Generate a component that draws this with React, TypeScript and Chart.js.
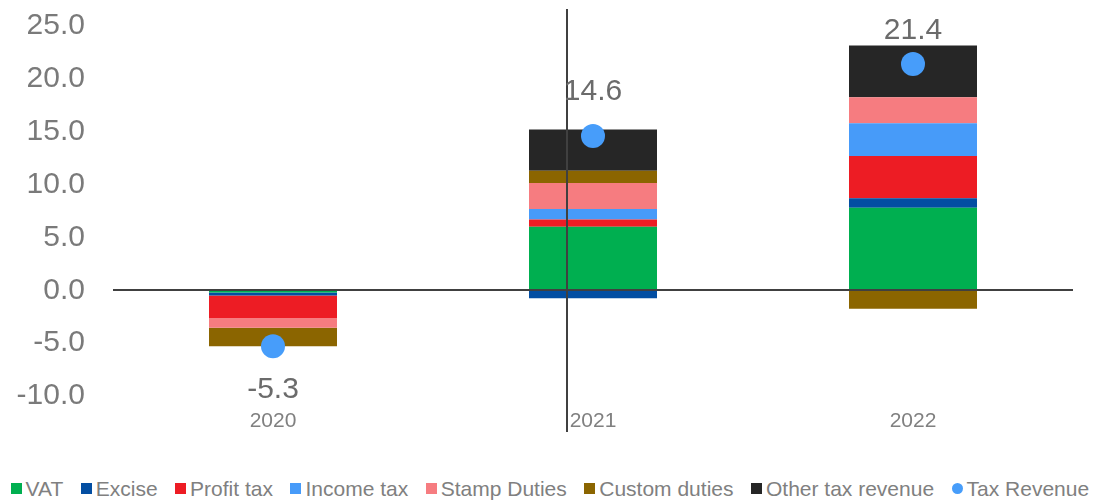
import React, { useEffect, useRef } from "react";
import { Chart, registerables } from "chart.js";

Chart.register(...registerables);

const categories = ["2020", "2021", "2022"];
const vat = [-0.2, 6.0, 7.8];
const excise = [-0.3, -0.75, 0.9];
const profitTax = [-2.15, 0.7, 4.0];
const incomeTax = [0, 1.0, 3.1];
const stampDuties = [-0.9, 2.45, 2.45];
const customDuties = [-1.75, 1.15, -1.75];
const otherTaxRevenue = [0, 3.9, 4.9];
const taxRevenue = [-5.3, 14.6, 21.4];
const taxRevenueLabels = ["-5.3", "14.6", "21.4"];
const yMin = -10;
const yMax = 25;
const yStep = 5;

// styling
const LABEL_OFFSETS = [43, -44, -33];
const AXIS_CROSS = 0.92;
const FONT = "'Liberation Sans', Arial, sans-serif";

const seriesDefs = [
  { label: "VAT", data: vat, color: "#00AF50" },
  { label: "Excise", data: excise, color: "#034EA2" },
  { label: "Profit tax", data: profitTax, color: "#ED1C24" },
  { label: "Income tax", data: incomeTax, color: "#479BF9" },
  { label: "Stamp Duties", data: stampDuties, color: "#F67C80" },
  { label: "Custom duties", data: customDuties, color: "#8B6500" },
  { label: "Other tax revenue", data: otherTaxRevenue, color: "#262626" },
];
const pointColor = "#479DFA";

const overlayPlugin = {
  id: "overlay",
  afterDatasetsDraw(chart: any) {
    const { ctx, chartArea, scales } = chart;
    const x = scales.x;
    const y = scales.y;
    ctx.save();
    ctx.strokeStyle = "#404040";
    ctx.lineWidth = 2;
    const y0 = Math.round(y.getPixelForValue(0));
    ctx.beginPath();
    ctx.moveTo(chartArea.left, y0);
    ctx.lineTo(chartArea.right, y0);
    ctx.stroke();
    const xc = Math.round(x.getPixelForValue(AXIS_CROSS));
    ctx.beginPath();
    ctx.moveTo(xc, chartArea.top - 17);
    ctx.lineTo(xc, chartArea.bottom + 36);
    ctx.stroke();

    const meta = chart.getDatasetMeta(seriesDefs.length);
    ctx.fillStyle = "#6b6b6b";
    ctx.font = `30px ${FONT}`;
    ctx.textAlign = "center";
    ctx.textBaseline = "middle";
    meta.data.forEach((pt: any, i: number) => {
      ctx.fillText(taxRevenueLabels[i], pt.x, pt.y + LABEL_OFFSETS[i]);
    });
    ctx.restore();
  },
};

function Legend() {
  const items = [
    ...seriesDefs.map((s) => ({ label: s.label, color: s.color, circle: false })),
    { label: "Tax Revenue", color: pointColor, circle: true },
  ];
  return (
    <div
      style={{
        position: "absolute",
        left: 10.5,
        top: 476,
        height: 25,
        display: "flex",
        alignItems: "center",
        fontFamily: FONT,
        fontSize: 21,
        color: "#808080",
        whiteSpace: "nowrap",
      }}
    >
      {items.map((it, i) => (
        <div
          key={it.label}
          style={{ display: "flex", alignItems: "center", marginLeft: i === 0 ? 0 : 17.5 }}
        >
          <span
            style={{
              display: "inline-block",
              width: 11,
              height: 11,
              background: it.color,
              borderRadius: it.circle ? "50%" : 0,
              marginRight: 4,
            }}
          />
          <span style={{ lineHeight: "25px" }}>{it.label}</span>
        </div>
      ))}
    </div>
  );
}

export default function App() {
  const canvasRef = useRef<HTMLCanvasElement | null>(null);

  useEffect(() => {
    if (!canvasRef.current) return;
    const datasets: any[] = seriesDefs.map((s) => ({
      type: "bar",
      label: s.label,
      data: s.data,
      backgroundColor: s.color,
      borderWidth: 0,
      barPercentage: 0.4,
      categoryPercentage: 1,
      stack: "taxes",
    }));
    datasets.push({
      type: "line",
      label: "Tax Revenue",
      data: taxRevenue,
      showLine: false,
      pointRadius: 12,
      pointHoverRadius: 12,
      pointBackgroundColor: pointColor,
      pointBorderWidth: 0,
      borderColor: pointColor,
      backgroundColor: pointColor,
      stack: "total",
      order: -1,
    });

    const chart = new Chart(canvasRef.current, {
      type: "bar",
      data: { labels: categories, datasets },
      options: {
        responsive: false,
        animation: false,
        devicePixelRatio: 1,
        layout: { padding: { left: 15, right: 23, top: 5, bottom: 30 } },
        plugins: { legend: { display: false }, tooltip: { enabled: false } },
        scales: {
          x: {
            stacked: true,
            grid: { display: false, drawTicks: false },
            border: { display: false },
            ticks: {
              font: { family: FONT, size: 21 },
              color: "#808080",
              padding: 13,
              maxRotation: 0,
            },
            afterFit: (scale: any) => {
              scale.height = 37;
            },
          },
          y: {
            stacked: true,
            min: yMin,
            max: yMax,
            grid: { display: false, drawTicks: false },
            border: { display: false },
            ticks: {
              stepSize: yStep,
              font: { family: FONT, size: 30 },
              color: "#7a7a7a",
              padding: 28,
              callback: (v: any) => Number(v).toFixed(1),
            },
            afterFit: (scale: any) => {
              scale.width = 98;
            },
          },
        },
      },
      plugins: [overlayPlugin],
    });
    return () => chart.destroy();
  }, []);

  return (
    <div style={{ position: "fixed", left: 0, top: 0, width: 1096, height: 501, background: "#fff", overflow: "hidden" }}>
      <canvas
        ref={canvasRef}
        width={1096}
        height={483}
        style={{ display: "block", position: "absolute", left: 0, top: -20 }}
      />
      <Legend />
    </div>
  );
}
